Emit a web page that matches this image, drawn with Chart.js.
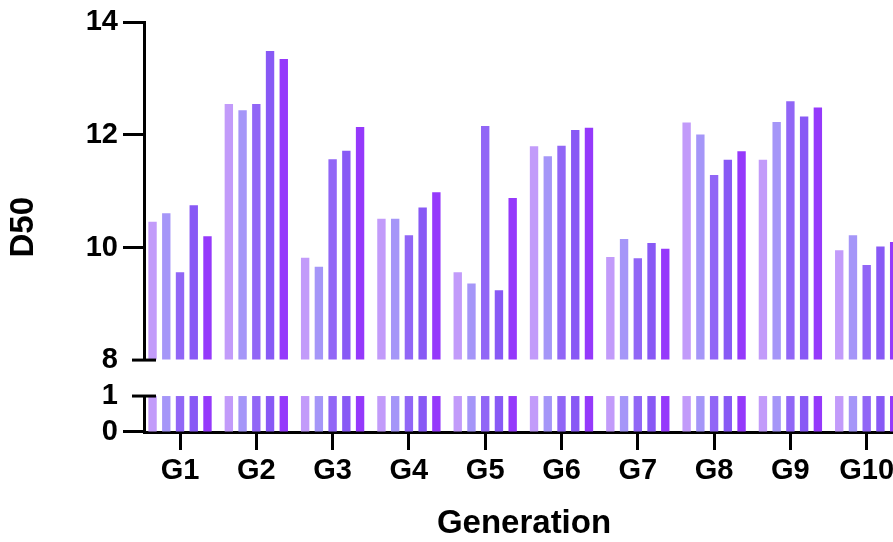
<!DOCTYPE html>
<html>
<head>
<meta charset="utf-8">
<script src="https://cdn.jsdelivr.net/npm/chart.js@4"></script>
<style>
  html, body { margin: 0; padding: 0; background: #ffffff; overflow: hidden; }
  #wrap { position: relative; width: 893px; height: 542px; overflow: hidden; background: #ffffff; }
  #wrap canvas { position: absolute; left: 0; top: 0; }
</style>
</head>
<body>
<div id="wrap"><canvas id="chart" width="904" height="544"></canvas></div>
<script>
// ---- data ----
const categories = ['G1', 'G2', 'G3', 'G4', 'G5', 'G6', 'G7', 'G8', 'G9', 'G10'];
const seriesNames = ['Series 1', 'Series 2', 'Series 3', 'Series 4', 'Series 5'];
const series1 = [10.46, 12.55, 9.82, 10.51, 9.56, 11.80, 9.83, 12.22, 11.56, 9.95];
const series2 = [10.61, 12.44, 9.66, 10.51, 9.36, 11.62, 10.15, 12.01, 12.23, 10.22];
const series3 = [9.56, 12.55, 11.57, 10.22, 12.16, 11.81, 9.81, 11.29, 12.60, 9.69];
const series4 = [10.75, 13.49, 11.72, 10.71, 9.24, 12.09, 10.08, 11.56, 12.33, 10.02];
const series5 = [10.20, 13.35, 12.14, 10.98, 10.88, 12.13, 9.98, 11.71, 12.49, 10.10];
const upperTicks = [8, 10, 12, 14];
const lowerTicks = [0, 1];
const yTitleText = 'D50';
const xTitleText = 'Generation';

// ---- styles ----
const colors = ['#c29bfa', '#a596f8', '#9166f6', '#8859f5', '#9539fb'];
const allSeries = [series1, series2, series3, series4, series5];
const FONT = "'Liberation Sans', Arial, Helvetica, sans-serif";
Chart.defaults.font.family = FONT;
Chart.defaults.color = '#000';

const datasets = [];
allSeries.forEach((vals, s) => {
  const common = {
    label: seriesNames[s],
    stack: 's' + s,
    xAxisID: 'x',
    backgroundColor: colors[s],
    borderWidth: 0,
    categoryPercentage: 0.9,
    barPercentage: 0.61
  };
  datasets.push(Object.assign({}, common, {
    data: vals.map((v, i) => ({ x: i + 1, y: v })),
    base: upperTicks[0],
    yAxisID: 'yHigh'
  }));
  datasets.push(Object.assign({}, common, {
    data: vals.map((v, i) => ({ x: i + 1, y: Math.min(v, lowerTicks[lowerTicks.length - 1]) })),
    yAxisID: 'yLow'
  }));
});

const breakMarks = {
  id: 'breakMarks',
  afterDraw(chart) {
    const { ctx, chartArea, scales } = chart;
    const ys = [scales.yHigh.getPixelForValue(scales.yHigh.min), scales.yLow.getPixelForValue(scales.yLow.max)];
    ctx.save();
    ctx.strokeStyle = '#000';
    ctx.lineWidth = 3;
    ys.forEach(y => {
      ctx.beginPath();
      ctx.moveTo(chartArea.left - 12, y);
      ctx.lineTo(chartArea.left + 12, y);
      ctx.stroke();
    });
    ctx.restore();
  }
};

const tickFont = { size: 29, weight: 'bold', family: FONT };
const titleFont = { size: 33, weight: 'bold', family: FONT };
const hidden = 'rgba(0,0,0,0)';

new Chart(document.getElementById('chart'), {
  type: 'bar',
  data: { datasets },
  options: {
    responsive: false,
    animation: false,
    layout: { padding: { top: 22, left: 0, right: 0, bottom: 0 } },
    plugins: { legend: { display: false }, tooltip: { enabled: false } },
    scales: {
      x: {
        type: 'linear',
        position: 'bottom',
        offset: false,
        min: 0.528,
        max: 10.489,
        afterBuildTicks: s => { s.ticks = categories.map((c, i) => ({ value: i + 1 })); },
        afterFit: s => { s.height = 112; },
        ticks: {
          autoSkip: false, maxRotation: 0, minRotation: 0,
          padding: 4, font: tickFont, color: '#000',
          callback: (v, i) => categories[i]
        },
        grid: { display: true, offset: false, drawOnChartArea: false, drawTicks: true, tickLength: 18, tickWidth: 3, tickColor: '#000' },
        border: { display: true, color: '#000', width: 3 },
        title: { display: true, text: xTitleText, font: titleFont, color: '#000', padding: { top: 0, bottom: 0 } }
      },
      yLow: {
        type: 'linear',
        position: 'left',
        stack: 'v',
        stackWeight: 36,
        stacked: false,
        min: lowerTicks[0],
        max: lowerTicks[lowerTicks.length - 1],
        afterBuildTicks: s => { s.ticks = lowerTicks.map(v => ({ value: v })); },
        afterFit: s => { s.width = 94; },
        ticks: { autoSkip: false, padding: 5, font: tickFont, color: '#000', callback: v => String(v) },
        grid: {
          display: true, drawOnChartArea: false, drawTicks: true, tickLength: 21, tickWidth: 3,
          tickColor: c => (c.tick && c.tick.value === lowerTicks[lowerTicks.length - 1]) ? hidden : '#000'
        },
        border: { display: true, color: '#000', width: 3 }
      },
      yGap: {
        type: 'linear',
        position: 'left',
        stack: 'v',
        stackWeight: 36,
        min: lowerTicks[lowerTicks.length - 1],
        max: upperTicks[0],
        afterFit: s => { s.width = 94; },
        ticks: { display: false },
        grid: { display: false, drawTicks: false },
        border: { display: false },
        title: { display: false }
      },
      yHigh: {
        type: 'linear',
        position: 'left',
        stack: 'v',
        stackWeight: 338,
        stacked: false,
        min: upperTicks[0],
        max: upperTicks[upperTicks.length - 1],
        afterBuildTicks: s => { s.ticks = upperTicks.map(v => ({ value: v })); },
        afterFit: s => { s.width = 94; },
        ticks: { autoSkip: false, padding: 5, font: tickFont, color: '#000', callback: v => String(v) },
        grid: {
          display: true, drawOnChartArea: false, drawTicks: true, tickLength: 21, tickWidth: 3,
          tickColor: c => (c.tick && c.tick.value === upperTicks[0]) ? hidden : '#000'
        },
        border: { display: true, color: '#000', width: 3 }
      },
      yTitle: {
        type: 'linear',
        position: 'left',
        afterFit: s => { s.width = 50; },
        ticks: { display: false },
        grid: { display: false, drawTicks: false },
        border: { display: false },
        title: { display: true, text: yTitleText, font: titleFont, color: '#000', padding: { top: 4, bottom: 0 } }
      }
    }
  },
  plugins: [breakMarks]
});
</script>
</body>
</html>
